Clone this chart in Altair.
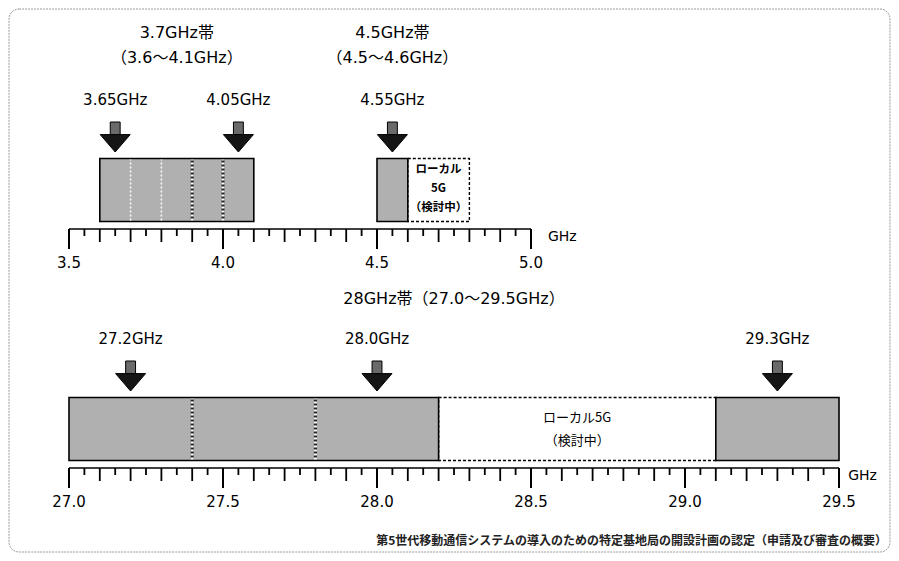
import altair as alt
import pandas as pd

LAT = "DejaVu Sans, Noto Sans CJK JP, sans-serif"
JP = "Noto Sans CJK JP, DejaVu Sans, sans-serif"

# ---------------- data: 3.7 / 4.5 GHz panel ----------------
TOP_DOMAIN = [3.5, 5.0]
TOP_TICK_LABELS = [3.5, 4.0, 4.5, 5.0]
TOP_BAND_START = [3.6, 4.5]
TOP_BAND_END = [4.1, 4.6]
TOP_LOCAL_START = [4.6]
TOP_LOCAL_END = [4.8]
TOP_DIV_THIN = [3.7, 3.8]
TOP_DIV_BOLD = [3.9, 4.0]
TOP_ARROW_GHZ = [3.65, 4.05, 4.55]
TOP_ARROW_LABELS = ["3.65GHz", "4.05GHz", "4.55GHz"]
TOP_TITLE_X = [3.85, 4.55]
TOP_TITLE_1 = ["3.7GHz帯", "4.5GHz帯"]
TOP_TITLE_2 = ["（3.6～4.1GHz）", "（4.5～4.6GHz）"]
TOP_LOCAL_TEXT = ["ローカル", "5G", "（検討中）"]

# ---------------- data: 28 GHz panel ----------------
BOT_DOMAIN = [27.0, 29.5]
BOT_TICK_LABELS = [27.0, 27.5, 28.0, 28.5, 29.0, 29.5]
BOT_BAND_START = [27.0, 29.1]
BOT_BAND_END = [28.2, 29.5]
BOT_LOCAL_START = [28.2]
BOT_LOCAL_END = [29.1]
BOT_DIV_THIN = []
BOT_DIV_BOLD = [27.4, 27.8]
BOT_ARROW_GHZ = [27.2, 28.0, 29.3]
BOT_ARROW_LABELS = ["27.2GHz", "28.0GHz", "29.3GHz"]
BOT_TITLE_X = [28.25]
BOT_TITLE = ["28GHz帯（27.0～29.5GHz）"]
BOT_LOCAL_TEXT = ["ローカル5G", "（検討中）"]

CAPTION = "第5世代移動通信システムの導入のための特定基地局の開設計画の認定（申請及び審査の概要）"

GRAY = "#b0b0b0"
SHAFT = "M-0.33,-1 L0.33,-1 L0.33,-0.12 L-0.33,-0.12 Z"
HEAD = "M-1,-0.16 L1,-0.16 L0,1 Z"


def tick_table(lo, hi):
    n = int(round((hi - lo) / 0.05))
    rows = []
    for i in range(n + 1):
        if i % 10 == 0:
            ln, w = -20, 2.0
        elif i % 2 == 0:
            ln, w = -13, 1.8
        else:
            ln, w = -7, 1.8
        rows.append({"v": round(lo + 0.05 * i, 2), "len": ln, "zero": 0, "w": w})
    return pd.DataFrame(rows)


def panel(domain, width, height, tick_labels, band_s, band_e, loc_s, loc_e,
          div_thin, div_bold, arrows, arrow_labels, titles, local_lines,
          local_x, local_ys, local_size, local_weight, unit_x, extra=None):
    xs = alt.Scale(domain=domain, nice=False, zero=False)
    ys = alt.Scale(domain=[0, height], nice=False, zero=False)

    def X(f):
        return alt.X(f, type="quantitative", scale=xs, axis=None)

    def Y(f):
        return alt.Y(f, type="quantitative", scale=ys, axis=None)

    BAR0, BAR1 = 7.5, 70.5
    layers = []
    if extra is not None:
        layers.extend(extra)

    # axis line, ticks, tick labels
    dom = pd.DataFrame({"s": [domain[0]], "e": [domain[1]], "y": [0]})
    layers.append(alt.Chart(dom).mark_rule(color="black", strokeWidth=1.6).encode(
        x=X("s"), x2="e", y=Y("y")))
    tk = tick_table(domain[0], domain[1])
    layers.append(alt.Chart(tk).mark_rule(color="black").encode(
        x=X("v"), y=Y("zero"), y2="len",
        strokeWidth=alt.StrokeWidth("w:Q", scale=None)))
    tl = pd.DataFrame({"v": tick_labels, "y": -34})
    layers.append(alt.Chart(tl).mark_text(font=LAT, fontSize=15, color="black").encode(
        x=X("v"), y=Y("y"), text=alt.Text("v:Q", format=".1f")))

    loc = pd.DataFrame({"s": loc_s, "e": loc_e, "y0": BAR0, "y1": BAR1})
    layers.append(alt.Chart(loc).mark_rect(fill="white", stroke="black",
                                           strokeWidth=1.4, strokeDash=[3, 2]).encode(
        x=X("s"), x2="e", y=Y("y0"), y2="y1"))

    bands = pd.DataFrame({"s": band_s, "e": band_e, "y0": BAR0, "y1": BAR1})
    layers.append(alt.Chart(bands).mark_rect(fill=GRAY, stroke="black", strokeWidth=1.6).encode(
        x=X("s"), x2="e", y=Y("y0"), y2="y1"))

    if div_thin:
        dt = pd.DataFrame({"v": div_thin, "y0": BAR0 + 1, "y1": BAR1 - 1})
        layers.append(alt.Chart(dt).mark_rule(color="white", strokeWidth=1.5, strokeDash=[2, 2]).encode(
            x=X("v"), y=Y("y0"), y2="y1"))
    if div_bold:
        db = pd.DataFrame({"v": div_bold, "y0": BAR0 + 1, "y1": BAR1 - 1})
        layers.append(alt.Chart(db).mark_rule(color="#222", strokeWidth=3).encode(
            x=X("v"), y=Y("y0"), y2="y1"))
        layers.append(alt.Chart(db).mark_rule(color="white", strokeWidth=3, strokeDash=[2, 2]).encode(
            x=X("v"), y=Y("y0"), y2="y1"))

    ar = pd.DataFrame({"v": arrows, "lab": arrow_labels, "yc": 92, "yl": 129})
    layers.append(alt.Chart(ar).mark_point(shape=SHAFT, size=900, filled=True, fill="#6a6a6a",
                                           stroke="black", strokeWidth=1, opacity=1).encode(
        x=X("v"), y=Y("yc")))
    layers.append(alt.Chart(ar).mark_point(shape=HEAD, size=900, filled=True, fill="#151515",
                                           stroke="black", strokeWidth=1, opacity=1).encode(
        x=X("v"), y=Y("yc")))
    layers.append(alt.Chart(ar).mark_text(font=LAT, fontSize=15, color="black").encode(
        x=X("v"), y=Y("yl"), text="lab:N"))

    tt = pd.DataFrame(titles)
    layers.append(alt.Chart(tt).mark_text(font=LAT, fontSize=16, color="black").encode(
        x=X("x"), y=Y("y"), text="t:N"))

    lt = pd.DataFrame({"t": local_lines, "x": local_x, "y": local_ys})
    layers.append(alt.Chart(lt).mark_text(font=JP, fontSize=local_size, fontWeight=local_weight,
                                          color="black").encode(
        x=X("x"), y=Y("y"), text="t:N"))

    un = pd.DataFrame({"t": ["GHz"], "x": [unit_x], "y": [-8]})
    layers.append(alt.Chart(un).mark_text(font=LAT, fontSize=14, color="black", align="left").encode(
        x=X("x"), y=Y("y"), text="t:N"))

    return alt.layer(*layers).properties(width=width, height=height)


frame = alt.Chart(pd.DataFrame({"a": [0]})).mark_rect(
    fillOpacity=0, stroke="#9a9a9a", strokeWidth=1, cornerRadius=10, strokeDash=[2, 1]
).encode(x=alt.value(-60), x2=alt.value(821), y=alt.value(-12), y2=alt.value(531))

top_titles = []
for x, a, b in zip(TOP_TITLE_X, TOP_TITLE_1, TOP_TITLE_2):
    top_titles.append({"x": x, "y": 196, "t": a})
    top_titles.append({"x": x, "y": 171, "t": b})

top = panel(TOP_DOMAIN, 462, 208, TOP_TICK_LABELS, TOP_BAND_START, TOP_BAND_END,
            TOP_LOCAL_START, TOP_LOCAL_END, TOP_DIV_THIN, TOP_DIV_BOLD,
            TOP_ARROW_GHZ, TOP_ARROW_LABELS, top_titles, TOP_LOCAL_TEXT,
            4.7, [59, 40, 21], 11.5, "bold", 5.055, extra=[frame])

caption = alt.Chart(pd.DataFrame({"t": [CAPTION]})).mark_text(
    font=JP, fontSize=12, fontWeight="bold", color="#222", align="right"
).encode(x=alt.value(818), y=alt.value(255), text="t:N")

bot_titles = [{"x": x, "y": 169, "t": t} for x, t in zip(BOT_TITLE_X, BOT_TITLE)]

bottom = panel(BOT_DOMAIN, 770, 182, BOT_TICK_LABELS, BOT_BAND_START, BOT_BAND_END,
               BOT_LOCAL_START, BOT_LOCAL_END, BOT_DIV_THIN, BOT_DIV_BOLD,
               BOT_ARROW_GHZ, BOT_ARROW_LABELS, bot_titles, BOT_LOCAL_TEXT,
               28.65, [50, 27], 13, "normal", 29.53, extra=[caption])

chart = alt.vconcat(top, bottom, spacing=57, bounds="flush").properties(
    padding={"left": 0, "top": 0, "right": 0, "bottom": 0}, background="white"
).configure_view(stroke="transparent", strokeWidth=0)

chart.save("out.html", embed_options={"renderer": "svg", "actions": False})
